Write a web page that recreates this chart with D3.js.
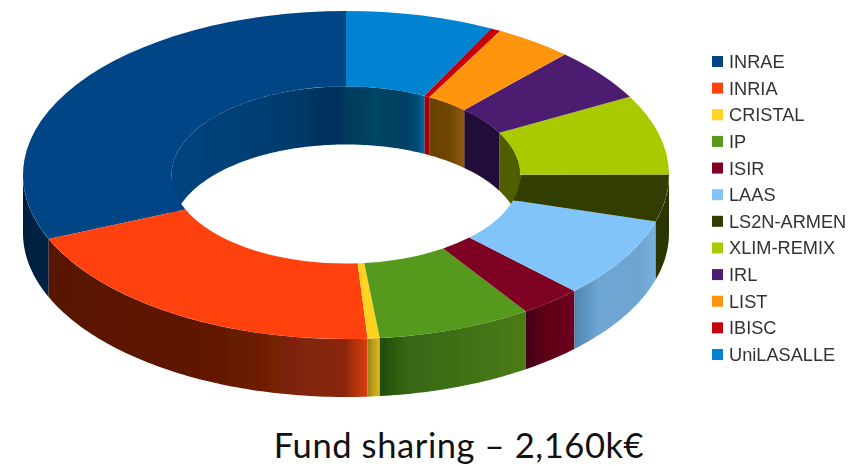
<!DOCTYPE html>
<html>
<head>
	<meta charset="utf-8">
	<title>Fund sharing</title>
	<script src="https://d3js.org/d3.v7.min.js"></script>
	<style>
		html, body { margin: 0; padding: 0; background: #fff; overflow: hidden; }
		svg { display: block; }
	</style>
</head>
<body>
	<div id="chart"></div>
	<script type="text/javascript">

		var labs = ["INRAE", "INRIA", "CRISTAL", "IP", "ISIR", "LAAS", "LS2N-ARMEN", "XLIM-REMIX", "IRL", "LIST", "IBISC", "UniLASALLE"];
		// k€ (sum 2160)
		var funds = [678, 425, 13, 167, 67, 171, 100, 170, 113, 85, 11, 160];
		var colors = ["#004586", "#ff420e", "#ffd320", "#559a1b", "#7e0021", "#80c4fa", "#333d00", "#aaca00", "#4b1f6f", "#ff950e", "#c5000b", "#0084d1"];
		var chartTitle = "Fund sharing – 2,160k€";

		// wall shading, [offset, colour] left to right across each slice
		var outerShades = [
			[[0, "#001f3f"], [1, "#002244"]],
			[[0, "#581500"], [0.48, "#601700"], [0.63, "#6a1c02"], [0.79, "#80250a"], [0.93, "#8a2808"], [0.95, "#a8300c"], [1, "#d83c10"]],
			[[0, "#9a8010"], [0.5, "#c0a020"], [1, "#e0b818"]],
			[[0, "#1f4a0c"], [0.12, "#2f5e10"], [0.2, "#376812"], [0.55, "#3f7014"], [1, "#4a7c16"]],
			[[0, "#42001a"], [0.4, "#5e0018"], [1, "#6c001c"]],
			[[0, "#4f86b0"], [0.3, "#6ea6d4"], [0.8, "#6ea5d0"], [1, "#78b2de"]],
			[[0, "#2a3503"], [1, "#2a3503"]],
			null, null, null, null, null
		];
		var innerShades = [
			[[0, "#00437f"], [0.4, "#003f76"], [0.72, "#003a6b"], [0.85, "#003360"], [0.96, "#002f5a"], [1, "#00386a"]],
			null, null, null, null, null, null,
			[[0, "#4f5e00"], [1, "#4f5e00"]],
			[[0, "#230f38"], [1, "#230f38"]],
			[[0, "#6a4206"], [0.6, "#704606"], [1, "#905a08"]],
			[[0, "#a00008"], [1, "#a00008"]],
			[[0, "#003c5c"], [0.25, "#00405f"], [0.35, "#004666"], [0.7, "#003f60"], [0.9, "#004a72"], [1, "#006aa8"]]
		];

		var width = 866, height = 466;
		var depth = 58, holeRatio = 0.54, bigR = 323;

		var svg = d3.select("#chart").append("svg")
			.attr("width", width)
			.attr("height", height);
		var defs = svg.append("defs");
		defs.append("filter").attr("id", "soft")
			.append("feGaussianBlur").attr("stdDeviation", 0.45);

		// unit circle to screen ellipse
		var xs = d3.scaleLinear().domain([-1, 1]).range([23, 669]);
		var ys = d3.scaleLinear().domain([-1, 1]).range([11, 339]);

		var slices = d3.pie().sort(null).startAngle(0).endAngle(-2 * Math.PI)(funds);

		var g = svg.append("g").attr("filter", "url(#soft)");

		// part of a slice that faces the viewer, as [from, to] in pie angles
		function visible(d, lo, hi) {
			var a = Math.max(d.endAngle, lo), b = Math.min(d.startAngle, hi);
			return a < b ? [a, b] : null;
		}

		function wallPath(range, r) {
			var n = Math.max(2, Math.ceil((range[1] - range[0]) * 60));
			var angles = d3.range(n + 1).map(function (i) { return range[0] + (range[1] - range[0]) * i / n; });
			var top = angles.map(function (a) { return [xs(r * Math.sin(a)), ys(-r * Math.cos(a))]; });
			var bottom = top.slice().reverse().map(function (p) { return [p[0], p[1] + depth]; });
			return { d: d3.line()(top.concat(bottom)) + "Z", x: d3.extent(top, function (p) { return p[0]; }) };
		}

		function drawWall(d, i, range, r, shades, tag) {
			if (!range) return;
			var w = wallPath(range, r);
			var fill = colors[i];
			if (shades[i]) {
				var id = tag + i;
				var grad = defs.append("linearGradient").attr("id", id)
					.attr("gradientUnits", "userSpaceOnUse")
					.attr("x1", w.x[0]).attr("x2", w.x[1]).attr("y1", 0).attr("y2", 0);
				shades[i].forEach(function (s) {
					grad.append("stop").attr("offset", s[0]).attr("stop-color", s[1]);
				});
				fill = "url(#" + id + ")";
			}
			g.append("path").attr("d", w.d).attr("fill", fill);
		}

		// far side of the hole, then near side of the rim
		slices.forEach(function (d, i) {
			var ranges = [visible(d, -Math.PI / 2, 0), visible(d, -2 * Math.PI, -3 * Math.PI / 2)];
			ranges.forEach(function (rg) { drawWall(d, i, rg, holeRatio, innerShades, "inner"); });
		});
		slices.forEach(function (d, i) {
			drawWall(d, i, visible(d, -3 * Math.PI / 2, -Math.PI / 2), 1, outerShades, "outer");
		});

		// top face
		var arc = d3.arc().innerRadius(bigR * holeRatio).outerRadius(bigR);
		var topFace = g.append("g")
			.attr("transform", "translate(" + xs(0) + "," + ys(0) + ") scale(1," + (ys(1) - ys(0)) / bigR + ")");
		topFace.selectAll("path")
			.data(slices)
			.enter()
			.append("path")
			.attr("d", function (d) { return arc({ startAngle: d.endAngle, endAngle: d.startAngle }); })
			.attr("fill", function (d, i) { return colors[i]; });

		// legend
		var legendY = d3.scalePoint().domain(labs).range([62, 355]);
		var legend = svg.append("g").attr("filter", "url(#soft)").selectAll("g")
			.data(labs)
			.enter()
			.append("g")
			.attr("transform", function (d) { return "translate(712," + legendY(d) + ")"; });
		legend.append("rect")
			.attr("y", -6)
			.attr("width", 11)
			.attr("height", 11)
			.attr("fill", function (d, i) { return colors[i]; });
		legend.append("text")
			.attr("x", 17)
			.attr("y", 6)
			.attr("font-family", "'Liberation Sans', sans-serif")
			.attr("font-size", "18.2px")
			.attr("fill", "#333")
			.text(function (d) { return d; });

		svg.append("text")
			.attr("x", 459)
			.attr("y", 458)
			.attr("text-anchor", "middle")
			.attr("font-family", "Lato, sans-serif")
			.attr("font-size", "34.5px")
			.attr("letter-spacing", "0.6px")
			.attr("fill", "#111")
			.text(chartTitle);
	</script>
</body>
</html>
